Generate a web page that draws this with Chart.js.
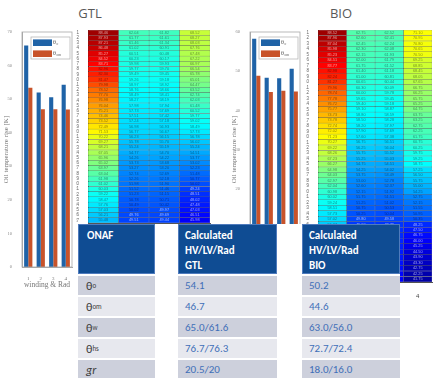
<!DOCTYPE html>
<html>
<head>
<meta charset="utf-8">
<script src="https://cdn.jsdelivr.net/npm/chart.js@4.4.0/dist/chart.umd.min.js"></script>
<style>
  body { margin: 0; background: #fff; width: 435px; height: 378px; overflow: hidden; position: relative; }
  canvas { position: absolute; }
  .ttl { position: absolute; top: 4px; width: 60px; text-align: center; font: 13px "Open Sans", sans-serif; color: #595959; line-height: 18px; }
  #tbl { position: absolute; left: 78px; top: 224px; width: 322px; height: 154px; background: #fff; }
  .cell { position: absolute; box-sizing: border-box; font-family: "Carlito", "Lato", sans-serif; font-size: 11px; white-space: nowrap; }
  .head { background: #0f4c93; border: 1px solid #4f7bbd; color: #fff; font-weight: bold; line-height: 15px; padding-top: 3px; }
  .row { display: flex; align-items: center; }
  .res { color: #3f6fb8; }
  .lab { color: #404040; font-size: 12px; }
  .lab sub { font-size: 7px; vertical-align: -3px; }
</style>
</head>
<body>
<div class="ttl" style="left:60px">GTL</div>
<div class="ttl" style="left:311px">BIO</div>

<canvas id="gtlBar" width="78" height="268" style="left:0px;top:22px"></canvas>
<canvas id="gtlHeat" width="140" height="215" style="left:76px;top:26px"></canvas>
<canvas id="bioBar" width="78" height="268" style="left:228px;top:22px"></canvas>
<canvas id="bioHeat" width="129" height="272" style="left:306px;top:26px"></canvas>

<div id="tbl"></div>

<script>
// Bar charts: winding & Rad 1..4
const groups = ['1', '2', '3', '4'];
const gtlTheta0 = [66.0, 52.0, 50.6, 54.3];
const gtlThetaOm = [53.4, 47.0, 47.0, 46.9];
const bioTheta0 = [58.3, 48.3, 48.2, 50.6];
const bioThetaOm = [48.8, 44.7, 45.0, 44.8];

// Heatmap columns (disc temperatures)
const heatCols = [1, 2, 3, 4];
const gtlCol1 = [88.46, 87.93, 87.21, 86.48, 85.27, 84.52, 83.71, 82.96, 82.30, 81.47, 79.98, 78.52, 77.70, 76.98, 76.04, 75.21, 74.46, 73.52, 72.49, 71.53, 70.22, 69.27, 68.21, 67.05, 65.96, 65.02, 63.97, 63.04, 61.98, 61.02, 60.03, 59.22, 58.47, 57.76, 57.03, 56.21, 55.48];
const gtlCol2 = [62.04, 61.77, 61.46, 61.02, 60.51, 60.23, 59.98, 59.77, 59.49, 59.26, 58.97, 58.76, 58.49, 58.27, 57.98, 57.73, 57.51, 57.24, 56.98, 56.77, 56.23, 55.78, 55.24, 54.77, 54.26, 53.73, 53.27, 52.74, 52.26, 51.98, 51.52, 51.23, 50.78, 50.49, 50.02, 49.76, 49.51];
const gtlCol3 = [61.82, 61.61, 61.34, 60.91, 60.48, 60.17, 59.93, 59.70, 59.45, 59.18, 58.92, 58.66, 58.41, 58.19, 57.94, 57.69, 57.42, 57.18, 56.93, 56.67, 56.15, 55.70, 55.19, 54.70, 54.22, 53.68, 53.20, 52.69, 52.18, 51.90, 51.46, 51.15, 50.71, 50.42, 49.97, 49.69, 49.44];
const gtlCol4 = [68.52, 68.27, 68.03, 67.76, 67.48, 67.22, 66.97, 66.54, 65.78, 65.01, 64.47, 63.52, 62.74, 62.03, 61.48, 60.52, 59.77, 59.02, 58.49, 57.73, 56.78, 56.02, 55.24, 54.51, 53.77, 53.02, 52.23, 51.48, 50.77, 50.02, 49.24, 48.51, 48.02, 47.48, 47.03, 46.51, 45.98];

const bioCol1 = [88.52, 87.96, 87.04, 85.98, 85.23, 84.51, 83.77, 82.98, 82.24, 81.27, 79.96, 78.74, 77.78, 76.72, 75.77, 74.73, 73.78, 72.74, 72.02, 71.23, 70.27, 69.22, 68.26, 67.23, 66.27, 64.98, 64.03, 62.97, 62.04, 60.98, 60.02, 59.24, 58.51, 57.73, 57.02, 56.27, 55.48, 54.77, 53.98, 53.26, 52.48, 51.77, 50.98, 50.26, 49.48, 48.77];
const bioCol2 = [62.75, 62.60, 62.45, 62.30, 62.15, 62.00, 61.75, 61.40, 61.00, 60.65, 60.30, 60.00, 59.65, 59.40, 59.10, 58.80, 58.50, 58.20, 57.90, 57.60, 56.75, 56.25, 55.75, 55.25, 54.75, 54.25, 53.75, 53.00, 52.60, 52.15, 51.75, 51.25, 50.75, 50.25, 49.80, 49.00, 48.75, 48.50, 48.25, 48.00, 47.75, 47.50, 47.25, 47.00, 46.65, 46.30];
const bioCol3 = [62.52, 62.41, 62.24, 62.08, 61.93, 61.79, 61.52, 61.18, 60.81, 60.44, 60.09, 59.78, 59.45, 59.18, 58.87, 58.59, 58.28, 57.97, 57.69, 57.38, 56.51, 56.04, 55.52, 55.03, 54.51, 54.02, 53.49, 52.78, 52.37, 51.92, 51.51, 51.02, 50.53, 50.04, 49.58, 48.79, 48.52, 48.27, 48.03, 47.76, 47.52, 47.28, 47.02, 46.77, 46.43, 46.08];
const bioCol4 = [71.10, 70.95, 70.80, 70.65, 70.50, 69.25, 68.85, 68.45, 68.05, 67.65, 66.75, 66.25, 65.75, 65.25, 64.75, 63.75, 63.25, 62.75, 62.25, 61.75, 60.75, 60.25, 59.75, 59.25, 58.75, 57.25, 56.50, 55.75, 55.00, 54.25, 52.75, 52.15, 51.55, 50.95, 50.35, 48.25, 47.50, 46.75, 46.00, 45.25, 44.50, 43.90, 43.30, 42.75, 42.25, 41.75];

const heatMin = 40, heatMax = 90;

// Table
const tableHeads = [['ONAF'], ['Calculated', 'HV/LV/Rad', 'GTL'], ['Calculated', 'HV/LV/Rad', 'BIO']];
const rowSymbols = [['θ', 'o'], ['θ', 'om'], ['θ', 'w'], ['θ', 'hs'], ['gr', '']];
const gtlResults = ['54.1', '46.7', '65.0/61.6', '76.7/76.3', '20.5/20'];
const bioResults = ['50.2', '44.6', '63.0/56.0', '72.7/72.4', '18.0/16.0'];

const serif = '"Liberation Serif", "DejaVu Serif", serif';

function clamp(x) { return Math.max(0, Math.min(1, x)); }
function jetT(v) { return clamp((v - heatMin) / (heatMax - heatMin)); }
function jet(v) {
    const t = jetT(v);
    const r = clamp(Math.min(4 * t - 1.5, -4 * t + 4.5));
    const g = clamp(Math.min(4 * t - 0.5, -4 * t + 3.5));
    const b = clamp(Math.min(4 * t + 0.5, -4 * t + 2.5));
    return `rgb(${Math.round(r * 255)},${Math.round(g * 255)},${Math.round(b * 255)})`;
}

// Frame + legend box inside the plot, matlab style
const boxLegend = {
    id: 'boxLegend',
    afterDraw(chart) {
        const { ctx, chartArea: a } = chart;
        ctx.save();
        ctx.strokeStyle = '#a8a8a8';
        ctx.lineWidth = 0.8;
        ctx.strokeRect(a.left, a.top, a.right - a.left, a.bottom - a.top);

        const w = 39, h = 22, x = a.right - 2 - w, y = a.top + 5;
        ctx.fillStyle = '#fff';
        ctx.fillRect(x, y, w, h);
        ctx.strokeStyle = '#b8b8b8';
        ctx.strokeRect(x, y, w, h);
        chart.data.datasets.forEach((ds, i) => {
            const sy = y + 2.4 + i * 11;
            ctx.fillStyle = ds.backgroundColor;
            ctx.fillRect(x + 2, sy, 19, 6.6);
            ctx.fillStyle = '#555';
            ctx.textBaseline = 'middle';
            ctx.font = '6px ' + serif;
            ctx.fillText(ds.label[0], x + 22, sy + 3);
            ctx.font = '3.5px ' + serif;
            ctx.fillText(ds.label.slice(1), x + 25.5, sy + 5);
        });
        ctx.restore();
    }
};

function barChart(id, blue, orange, yMax) {
    return new Chart(document.getElementById(id), {
        type: 'bar',
        data: {
            labels: groups,
            datasets: [
                { label: 'θo', data: blue, backgroundColor: '#1f63a7', barPercentage: 1, categoryPercentage: 0.66 },
                { label: 'θom', data: orange, backgroundColor: '#c8532a', barPercentage: 1, categoryPercentage: 0.66 }
            ]
        },
        options: {
            responsive: false,
            animation: false,
            layout: { padding: { left: 0, top: 10, right: 6, bottom: 0 } },
            plugins: { legend: { display: false }, tooltip: { enabled: false } },
            scales: {
                x: {
                    grid: { display: false },
                    border: { color: '#a8a8a8' },
                    ticks: { font: { family: serif, size: 5 }, color: '#777', padding: 1 },
                    title: { display: true, text: 'winding & Rad', font: { family: serif, size: 7.5 }, color: '#777', padding: 0 },
                    afterFit: s => { s.height = 23; }
                },
                y: {
                    min: 0,
                    max: yMax,
                    grid: { display: false },
                    border: { color: '#a8a8a8' },
                    ticks: { stepSize: 10, font: { family: serif, size: 4.5 }, color: '#888', padding: 2 },
                    title: { display: true, text: 'Oil temperature rise [K]', font: { family: serif, size: 7 }, color: '#777', padding: { top: 2, bottom: 0 } },
                    afterFit: s => { s.width = 22; }
                }
            }
        },
        plugins: [boxLegend]
    });
}

// numbers written inside each heatmap cell
const cellText = {
    id: 'cellText',
    afterDatasetsDraw(chart) {
        const ctx = chart.ctx;
        ctx.save();
        ctx.font = '3.8px Arial';
        ctx.textAlign = 'center';
        ctx.textBaseline = 'middle';
        chart.data.datasets.forEach((ds, di) => {
            chart.getDatasetMeta(di).data.forEach((bar, i) => {
                const v = ds.values[i];
                const t = jetT(v);
                ctx.fillStyle = (t > 0.86 || t < 0.2) ? 'rgba(255,255,255,0.6)' : 'rgba(0,0,0,0.45)';
                ctx.fillText(v.toFixed(2), (bar.x + bar.base) / 2, bar.y);
            });
        });
        ctx.restore();
    }
};

function heatmap(id, cols, axisH, rightPad) {
    const rows = cols[0].map((_, i) => String(i + 1));
    return new Chart(document.getElementById(id), {
        type: 'bar',
        data: {
            labels: rows,
            datasets: cols.map((vals, c) => ({
                data: vals.map(() => [heatCols[c] - 0.5, heatCols[c] + 0.5]),
                values: vals,
                backgroundColor: vals.map(jet),
                borderColor: 'rgba(30,30,30,0.5)',
                borderWidth: 0.5,
                borderSkipped: false,
                barPercentage: 1,
                categoryPercentage: 1,
                grouped: false
            }))
        },
        options: {
            indexAxis: 'y',
            responsive: false,
            animation: false,
            layout: { padding: { left: 0, top: 4, right: rightPad, bottom: 0 } },
            plugins: { legend: { display: false }, tooltip: { enabled: false } },
            scales: {
                x: {
                    type: 'linear',
                    min: 0.5,
                    max: 4.5,
                    grid: { display: false },
                    border: { color: '#555' },
                    ticks: { font: { family: 'Arial', size: 6 }, color: '#444', padding: 3 },
                    afterBuildTicks: s => { s.ticks = heatCols.map(v => ({ value: v })); },
                    afterFit: s => { s.height = axisH; }
                },
                y: {
                    grid: { display: false },
                    border: { color: '#555' },
                    ticks: { autoSkip: false, font: { family: 'Arial', size: 4.5 }, color: '#666', padding: 1 },
                    afterFit: s => { s.width = 12; }
                }
            }
        },
        plugins: [cellText]
    });
}

barChart('gtlBar', gtlTheta0, gtlThetaOm, 70);
barChart('bioBar', bioTheta0, bioThetaOm, 60);
heatmap('gtlHeat', [gtlCol1, gtlCol2, gtlCol3, gtlCol4], 18, 6);
heatmap('bioHeat', [bioCol1, bioCol2, bioCol3, bioCol4], 16, 3);

// build the table
const tbl = document.getElementById('tbl');
const colX = [0, 100, 224];
const colW = [77, 99, 98];
const rowTop = [52, 73, 94, 115, 136];
const rowBg = ['#cdd0dc', '#e7e8ee', '#cdd0dc', '#e7e8ee', '#cdd0dc'];

function addCell(cls, x, y, w, h, html, style) {
    const d = document.createElement('div');
    d.className = 'cell ' + cls;
    d.style.left = x + 'px';
    d.style.top = y + 'px';
    d.style.width = w + 'px';
    d.style.height = h + 'px';
    d.innerHTML = html;
    Object.assign(d.style, style || {});
    tbl.appendChild(d);
}

tableHeads.forEach((lines, c) => {
    addCell('head', colX[c], 0, colW[c], 50, lines.join('<br>'), { paddingLeft: c === 0 ? '8px' : '6px' });
});
rowSymbols.forEach((sym, r) => {
    const lab = sym[0] === 'gr' ? '<i>gr</i>' : sym[0] + '<sub>' + sym[1] + '</sub>';
    addCell('row lab', colX[0], rowTop[r], colW[0], 19, lab, { background: rowBg[r], paddingLeft: '8px' });
    addCell('row res', colX[1], rowTop[r], colW[1], 19, gtlResults[r], { background: rowBg[r], paddingLeft: '7px' });
    addCell('row res', colX[2], rowTop[r], colW[2], 19, bioResults[r], { background: rowBg[r], paddingLeft: '7px' });
});
</script>
</body>
</html>
